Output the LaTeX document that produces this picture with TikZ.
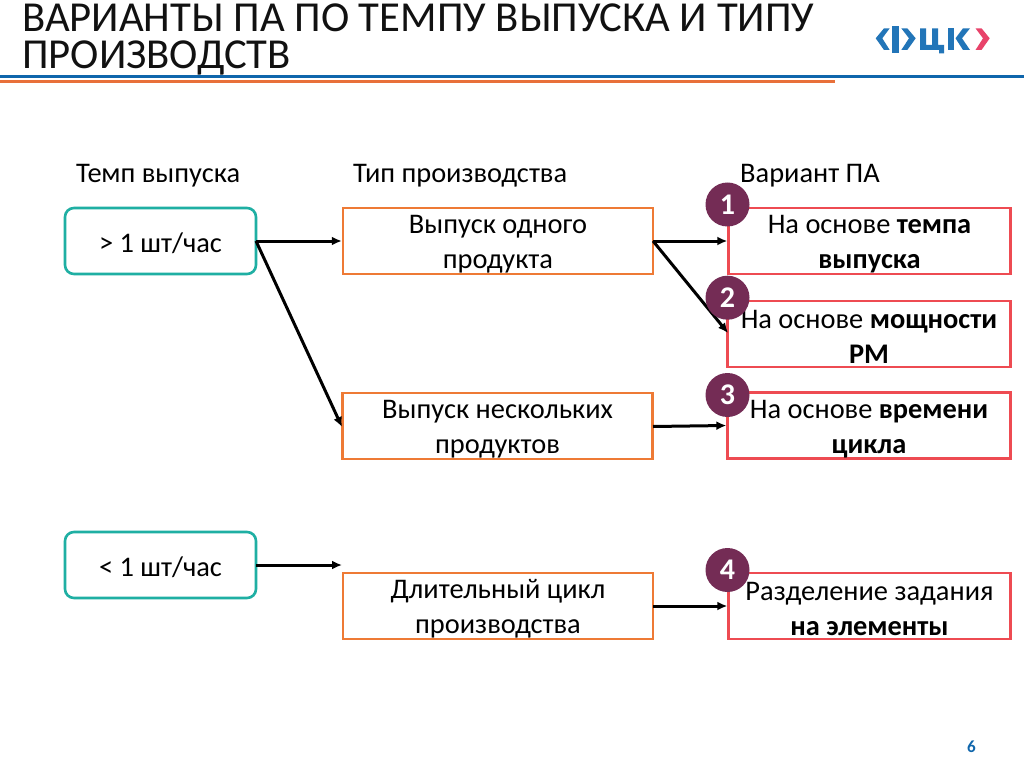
\documentclass[tikz,border=0pt]{standalone}
\usepackage{fontspec}
\setmainfont{Carlito}
\usetikzlibrary{arrows.meta}
\definecolor{ttl}{HTML}{111111}
\definecolor{blueb}{HTML}{0F66AC}
\definecolor{orangeb}{HTML}{E8703A}
\definecolor{tealb}{HTML}{1FAFA3}
\definecolor{boxo}{HTML}{EE7A35}
\definecolor{boxr}{HTML}{EE4B52}
\definecolor{plum}{HTML}{742C55}
\definecolor{logob}{HTML}{2275B8}
\definecolor{logor}{HTML}{E8436A}
\newcommand{\dg}[1]{\raisebox{-2pt}{#1}}
\tikzset{
 head/.style={font=\fontsize{28.4}{32}\selectfont,text=black,inner sep=0pt},
 teal/.style={draw=tealb,line width=2.6pt,rounded corners=9pt,inner sep=0pt},
 obox/.style={draw=boxo,line width=2.4pt,inner sep=0pt},
 rbox/.style={draw=boxr,line width=2.4pt,inner sep=0pt},
 body/.style={font=\fontsize{28.4}{35}\selectfont,align=center,text=black,inner sep=0pt},
 num/.style={circle,fill=plum,minimum size=44pt,inner sep=0pt,text=white,font=\fontsize{30}{32}\selectfont\bfseries},
 conn/.style={line width=3pt,-{Latex[length=10pt,width=9pt]}},
}
\begin{document}
\begin{tikzpicture}[x=1pt,y=-1pt]
\useasboundingbox (0,0) rectangle (1024,767);
\fill[white] (0,0) rectangle (1024,767);
% rules under the title
\fill[blueb] (0,75.5) rectangle (1024,78.5);
\fill[orangeb] (0,80.5) rectangle (835,83.5);
% title
\node[anchor=west,inner sep=0pt,align=left,font=\fontsize{42.7}{36.5}\selectfont,text=ttl] (title) at (22,39.5) {ВАРИАНТЫ ПА ПО ТЕМПУ ВЫПУСКА И ТИПУ\\ПРОИЗВОДСТВ};
% logo
\fill[logob] (875.7,38.3)--(884,28.3)--(889.7,28.3)--(882.3,38.3)--(889.7,50)--(884,50)--cycle;
\fill[logob] (892.3,26) rectangle (899,52.7);
\fill[logob] (901.3,28.3)--(907.3,28.3)--(915.7,38.3)--(907.3,50)--(901.3,50)--(909,38.3)--cycle;
\fill[logob] (920,28.3)--(926,28.3)--(926,45)--(932,45)--(932,28.3)--(938,28.3)--(938,45)--(944,45)--(944,53.5)--(939,53.5)--(939,50)--(920,50)--cycle;
\fill[logob] (947.5,28.3)--(953.5,28.3)--(953.5,50)--(947.5,50)--cycle;
\fill[logob] (955.5,38.3)--(963,28.3)--(970,28.3)--(962,38.3)--(970,50)--(963,50)--cycle;
\fill[logor] (975.5,28.3)--(981.5,28.3)--(989.7,38.3)--(981.5,50)--(975.5,50)--(983,38.3)--cycle;
% column heads
\node[head,anchor=west] (h1) at (76,176) {Темп выпуска};
\node[head,anchor=west] (h2) at (353,176) {Тип производства};
\node[head,anchor=west] (h3) at (740,176) {Вариант ПА};
% boxes
\node[teal,minimum width=191pt,minimum height=66pt] (t1) at (160.5,241) {};
\node[teal,minimum width=191pt,minimum height=66pt] (t2) at (160.5,565) {};
\node[body] (t1t) at (160.5,243.5) {> 1 шт/час};
\node[body] (t2t) at (160.5,567.5) {< 1 шт/час};
\node[obox,minimum width=310pt,minimum height=66pt] (p1) at (498,241) {};
\node[obox,minimum width=310pt,minimum height=66pt] (p2) at (497.5,426) {};
\node[obox,minimum width=310pt,minimum height=66pt] (p3) at (498,606) {};
\node[body] (p1t) at (498,244.5) {Выпуск одного\\продукта};
\node[body] (p2t) at (497.5,429.5) {Выпуск нескольких\\продуктов};
\node[body] (p3t) at (498,609) {Длительный цикл\\производства};
\node[rbox,minimum width=282pt,minimum height=66pt] (r1) at (869.5,241) {};
\node[rbox,minimum width=283pt,minimum height=66pt] (r2) at (869,334) {};
\node[rbox,minimum width=283pt,minimum height=66pt] (r3) at (869,425.5) {};
\node[rbox,minimum width=282pt,minimum height=66pt] (r4) at (869.5,606) {};
\node[body] (r1t) at (869.5,244.5) {На основе \textbf{темпа}\\\textbf{выпуска}};
\node[body] (r2t) at (869,337) {На основе \textbf{мощности}\\\textbf{РМ}};
\node[body] (r3t) at (869,429) {На основе \textbf{времени}\\\textbf{цикла}};
\node[body] (r4t) at (869.5,609) {Разделение задания\\\textbf{на элементы}};
% connectors
\coordinate (a1) at (256,241);
\coordinate (a2) at (653,241);
\coordinate (a3) at (653,426.5);
\coordinate (a4) at (653,606);
\coordinate (a5) at (256,565);
\coordinate (e5) at (342,565);
\coordinate (e2) at (342,427);
\coordinate (e3) at (728,333);
\draw[conn] (a1) -- (p1.west);
\draw[conn] (a1) -- (e2);
\draw[conn] (a5) -- (e5);
\draw[conn] (a2) -- (r1.west);
\draw[conn] (a2) -- (e3);
\draw[conn] (a3) -- (r3.west);
\draw[conn] (a4) -- (r4.west);
% badges
\node[num] (n1) at (727.5,204.5) {\dg{1}};
\node[num] (n2) at (727.5,297.7) {\dg{2}};
\node[num] (n3) at (727.5,395) {\dg{3}};
\node[num] (n4) at (727.5,570) {\dg{4}};
\node[font=\fontsize{17}{18}\selectfont\bfseries,text=blueb,inner sep=0pt] (pg) at (971.5,747) {6};
\end{tikzpicture}
\end{document}
